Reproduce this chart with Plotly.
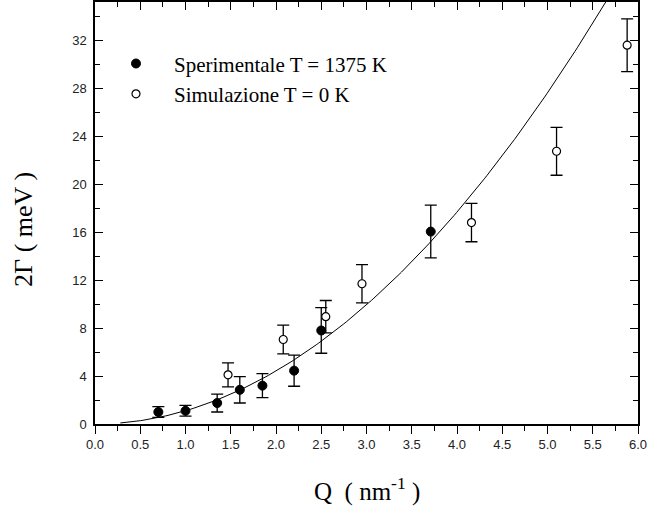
import numpy as np
import plotly.graph_objects as go

# Experimental data (T = 1375 K)
exp_q = [0.70, 1.00, 1.35, 1.60, 1.85, 2.20, 2.50, 3.71]
exp_g = [1.0, 1.1, 1.75, 2.85, 3.2, 4.45, 7.8, 16.05]
exp_err = [0.45, 0.45, 0.75, 1.1, 1.0, 1.3, 1.9, 2.2]

# Simulation data (T = 0 K)
sim_q = [1.47, 2.08, 2.55, 2.95, 4.16, 5.10, 5.88]
sim_g = [4.1, 7.05, 8.95, 11.7, 16.8, 22.75, 31.6]
sim_err = [1.0, 1.2, 1.35, 1.6, 1.6, 2.0, 2.2]

# Fit curve parameters: 2Gamma = A * Q^P
FIT_A = 1.105
FIT_P = 2.0
FIT_QMIN, FIT_QMAX = 0.28, 5.8

x_ticks = [0.0, 0.5, 1.0, 1.5, 2.0, 2.5, 3.0, 3.5, 4.0, 4.5, 5.0, 5.5, 6.0]
y_ticks = [0, 4, 8, 12, 16, 20, 24, 28, 32]

fit_q = np.linspace(FIT_QMIN, FIT_QMAX, 200)
fit_g = FIT_A * fit_q ** FIT_P

fig = go.Figure()

fig.add_trace(go.Scatter(
    x=fit_q, y=fit_g, mode="lines",
    line=dict(color="black", width=1), showlegend=False, hoverinfo="skip"))

fig.add_trace(go.Scatter(
    x=exp_q, y=exp_g, mode="markers", name="Sperimentale T = 1375 K",
    marker=dict(symbol="circle", size=9, color="black", line=dict(color="black", width=1)),
    error_y=dict(type="data", array=exp_err, color="black", thickness=1.3, width=6),
    legendgroup="a"))

fig.add_trace(go.Scatter(
    x=sim_q, y=sim_g, mode="markers", name="Simulazione T = 0 K",
    marker=dict(symbol="circle", size=8, color="white", line=dict(color="black", width=1.2)),
    error_y=dict(type="data", array=sim_err, color="black", thickness=1.3, width=6),
    legendgroup="b"))

# invisible trace for mirrored axes
fig.add_trace(go.Scatter(x=[0], y=[0], xaxis="x2", yaxis="y2", mode="markers",
                         marker=dict(opacity=0), showlegend=False, hoverinfo="skip"))

tick_font = dict(family="Liberation Sans, Arial", size=13, color="#222")
yr = [0, 35.2]
serif = "Liberation Serif, Times New Roman"

fig.update_layout(
    width=648, height=510,
    margin=dict(l=95, r=10, t=2, b=86),
    paper_bgcolor="white", plot_bgcolor="white",
    showlegend=True,
    legend=dict(x=0.0055, y=0.902, xanchor="left", yanchor="top",
                font=dict(family=serif, size=21, color="black"),
                bgcolor="rgba(0,0,0,0)", itemwidth=66, tracegroupgap=0,
                traceorder="grouped"),
    xaxis=dict(range=[0, 6], tickvals=x_ticks, ticktext=[f"{v:.1f}" for v in x_ticks],
               ticks="outside", ticklen=8, tickwidth=1.3, tickcolor="black",
               minor=dict(dtick=0.25, ticks="outside", ticklen=5, tickwidth=1.3, tickcolor="black"),
               showline=True, linecolor="black", linewidth=1.5, showgrid=False, zeroline=False,
               tickfont=tick_font),
    xaxis2=dict(range=[0, 6], overlaying="x", side="top", tickvals=x_ticks, showticklabels=False,
                ticks="inside", ticklen=8, tickwidth=1.3, tickcolor="black",
                minor=dict(dtick=0.25, ticks="inside", ticklen=5, tickwidth=1.3, tickcolor="black"),
                showline=True, linecolor="black", linewidth=1.5, showgrid=False, zeroline=False),
    yaxis=dict(range=yr, tickvals=y_ticks,
               ticks="inside", ticklen=8, tickwidth=1.3, tickcolor="black",
               minor=dict(dtick=2, ticks="inside", ticklen=5, tickwidth=1.3, tickcolor="black"),
               showline=True, linecolor="black", linewidth=1.5, showgrid=False, zeroline=False,
               tickfont=tick_font, ticklabelstandoff=4),
    yaxis2=dict(range=yr, overlaying="y", side="right", tickvals=y_ticks, showticklabels=False,
                ticks="inside", ticklen=8, tickwidth=1.3, tickcolor="black",
                minor=dict(dtick=2, ticks="inside", ticklen=5, tickwidth=1.3, tickcolor="black"),
                showline=True, linecolor="black", linewidth=1.5, showgrid=False, zeroline=False),
    annotations=[
        dict(text="Q  ( nm<sup>-1</sup> )", x=0.5, y=-0.155, xref="paper", yref="paper",
             xanchor="center", yanchor="middle", showarrow=False,
             font=dict(family=serif, size=25, color="black")),
        dict(text="2Γ ( meV )", x=(24 - 95) / (648 - 95 - 10), y=0.46, xref="paper", yref="paper",
             xanchor="center", yanchor="middle", showarrow=False, textangle=-90,
             font=dict(family=serif, size=26, color="black")),
    ],
)

fig.write_html("out.html")
